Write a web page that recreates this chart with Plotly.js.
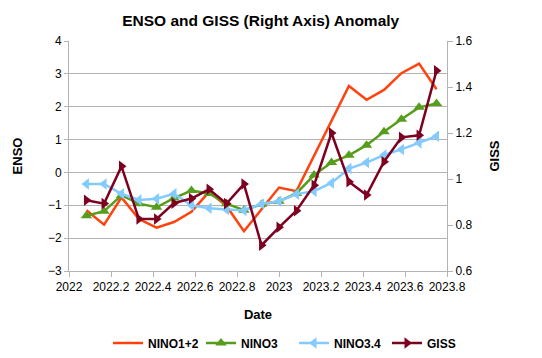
<!DOCTYPE html>
<html>
<head>
<meta charset="utf-8">
<script src="https://cdn.plot.ly/plotly-3.0.1.min.js"></script>
<style>html,body{margin:0;padding:0;background:#fff;}#chart{width:542px;height:358px;}</style>
</head>
<body>
<div id="chart"></div>
<script>
// Decimal dates (monthly, Feb 2022 .. Oct 2023)
const dates = [2022.083, 2022.167, 2022.25, 2022.333, 2022.417, 2022.5, 2022.583, 2022.667, 2022.75, 2022.833, 2022.917,
               2023.0, 2023.083, 2023.167, 2023.25, 2023.333, 2023.417, 2023.5, 2023.583, 2023.667, 2023.75];
const nino12 = [-1.15, -1.59, -0.76, -1.42, -1.68, -1.51, -1.2, -0.59, -1.02, -1.79, -1.12,
                -0.46, -0.57, 0.5, 1.55, 2.63, 2.21, 2.51, 3.02, 3.31, 2.53];
const nino3 = [-1.32, -1.18, -0.7, -0.95, -1.06, -0.78, -0.55, -0.64, -0.95, -1.15, -0.97,
               -0.88, -0.64, -0.08, 0.3, 0.52, 0.83, 1.24, 1.62, 1.98, 2.1];
const nino34 = [-0.35, -0.35, -0.65, -0.84, -0.8, -0.65, -1.0, -1.09, -1.13, -1.16, -0.96,
                -0.88, -0.66, -0.57, -0.32, 0.12, 0.3, 0.53, 0.7, 0.9, 1.1];
const giss = [0.908, 0.893, 1.055, 0.826, 0.826, 0.895, 0.915, 0.955, 0.893, 0.978, 0.712,
              0.79, 0.862, 0.973, 1.2, 0.988, 0.93, 1.075, 1.181, 1.19, 1.471];
const seriesNames = ["NINO1+2", "NINO3", "NINO3.4", "GISS"];
const xTicks = [2022, 2022.2, 2022.4, 2022.6, 2022.8, 2023, 2023.2, 2023.4, 2023.6, 2023.8];
const xTickText = ["2022", "2022.2", "2022.4", "2022.6", "2022.8", "2023", "2023.2", "2023.4", "2023.6", "2023.8"];
const yTicks = [-3, -2, -1, 0, 1, 2, 3, 4];
const y2Ticks = [0.6, 0.8, 1, 1.2, 1.4, 1.6];
const y2TickText = ["0.6", "0.8", "1", "1.2", "1.4", "1.6"];

const FONT = '"Liberation Sans", Arial, sans-serif';
const grid = '#b3b3b3';

const traces = [
  {x: dates, y: nino12, name: seriesNames[0], type: 'scatter', mode: 'lines',
   line: {color: '#ff420e', width: 2.5}},
  {x: dates, y: nino3, name: seriesNames[1], type: 'scatter', mode: 'lines+markers',
   line: {color: '#579d1c', width: 2.5}, marker: {symbol: 'triangle-up', size: 10, color: '#579d1c'}},
  {x: dates, y: nino34, name: seriesNames[2], type: 'scatter', mode: 'lines+markers',
   line: {color: '#83caff', width: 2.5}, marker: {symbol: 'triangle-left', size: 10, color: '#83caff'}},
  {x: dates, y: giss, name: seriesNames[3], type: 'scatter', mode: 'lines+markers', yaxis: 'y2',
   line: {color: '#7e0021', width: 2.5}, marker: {symbol: 'triangle-right', size: 10, color: '#7e0021'}}
];

const layout = {
  width: 542, height: 358,
  margin: {l: 69, r: 95, t: 41, b: 87, pad: 0},
  paper_bgcolor: '#ffffff', plot_bgcolor: '#ffffff',
  font: {family: FONT, size: 12, color: '#000'},
  title: {text: '<b>ENSO and GISS (Right Axis) Anomaly</b>', font: {family: FONT, size: 15.5, color: '#000'},
          x: 0.481, xref: 'container', xanchor: 'center', y: 0.942, yref: 'container', yanchor: 'middle'},
  xaxis: {range: [2022, 2023.8], tickvals: xTicks, ticktext: xTickText, tickangle: 0, automargin: false,
          showgrid: false, zeroline: false,
          showline: true, linecolor: grid, linewidth: 1, ticks: 'outside', ticklen: 5, tickcolor: grid,
          tickfont: {size: 12},
          title: {text: '<b>Date</b>', font: {family: FONT, size: 13}, standoff: 16}},
  yaxis: {range: [-3, 4], tickvals: yTicks, automargin: false, showgrid: true, gridcolor: grid, gridwidth: 1, zeroline: false,
          showline: true, linecolor: grid, linewidth: 1, ticks: 'outside', ticklen: 4, tickcolor: grid,
          tickfont: {size: 12},
          title: {text: '<b>ENSO</b>', font: {family: FONT, size: 13}, standoff: 22}},
  yaxis2: {range: [0.6, 1.6], tickvals: y2Ticks, ticktext: y2TickText, overlaying: 'y', side: 'right', automargin: false,
           showgrid: false, zeroline: false, showline: true, linecolor: grid, linewidth: 1,
           ticks: 'outside', ticklen: 5, tickcolor: grid, tickfont: {size: 12},
           title: {text: '<b>GISS</b>', font: {family: FONT, size: 13}, standoff: 18}},
  showlegend: true,
  legend: {orientation: 'h', x: 108 / 542, xanchor: 'left', y: 1 - 343 / 358, yanchor: 'middle',
           xref: 'container', yref: 'container',
           font: {family: FONT, size: 12, weight: 'bold'}, bgcolor: 'rgba(0,0,0,0)',
           itemwidth: 30, tracegroupgap: 0, entrywidth: 48, entrywidthmode: 'pixels'}
};

Plotly.newPlot('chart', traces, layout, {displayModeBar: false, staticPlot: true});
</script>
</body>
</html>
